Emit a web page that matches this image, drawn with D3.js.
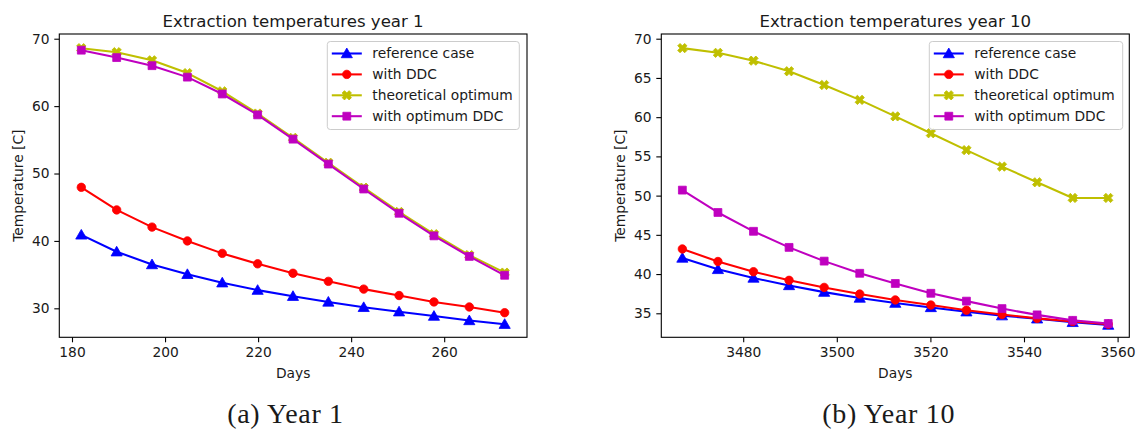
<!DOCTYPE html>
<html>
<head>
<meta charset="utf-8">
<script src="https://cdn.jsdelivr.net/npm/d3@7"></script>
<style>
  html, body { margin: 0; padding: 0; background: #fff; }
  svg { display: block; }
  text { font-family: "DejaVu Sans", sans-serif; fill: #1a1a1a; }
  .caption { font-family: "Liberation Serif", "DejaVu Serif", serif; }
</style>
</head>
<body>
<svg id="chart" width="1137" height="429"></svg>
<script>
// Extraction days (day of simulation)
const daysYear1  = [182, 189.6, 197.2, 204.8, 212.3, 219.9, 227.5, 235.1, 242.7, 250.3, 257.8, 265.4, 273];
const daysYear10 = [3467, 3474.6, 3482.2, 3489.8, 3497.3, 3504.9, 3512.5, 3520.1, 3527.7, 3535.3, 3542.8, 3550.4, 3558];

// Extraction temperatures [C], year 1
const referenceYear1   = [40.9, 38.4, 36.5, 35.05, 33.8, 32.7, 31.8, 30.95, 30.15, 29.5, 28.85, 28.2, 27.65];
const ddcYear1         = [47.95, 44.6, 42.05, 40.0, 38.15, 36.6, 35.2, 34.0, 32.85, 31.9, 30.95, 30.2, 29.35];
const theoreticalYear1 = [68.6, 68.0, 66.8, 64.9, 62.2, 58.9, 55.3, 51.6, 47.9, 44.3, 41.0, 37.9, 35.3];
const optimumDdcYear1  = [68.3, 67.2, 66.0, 64.3, 61.8, 58.7, 55.1, 51.4, 47.7, 44.1, 40.75, 37.7, 34.9];

// Extraction temperatures [C], year 10
const referenceYear10   = [42.05, 40.6, 39.5, 38.55, 37.7, 36.95, 36.3, 35.75, 35.2, 34.7, 34.3, 33.85, 33.5];
const ddcYear10         = [43.2, 41.6, 40.3, 39.2, 38.3, 37.45, 36.7, 36.05, 35.4, 34.85, 34.35, 33.95, 33.6];
const theoreticalYear10 = [68.8, 68.2, 67.2, 65.85, 64.1, 62.2, 60.1, 57.95, 55.8, 53.7, 51.7, 49.7, 49.7];
const optimumDdcYear10  = [50.7, 47.85, 45.45, 43.4, 41.65, 40.1, 38.8, 37.55, 36.55, 35.6, 34.8, 34.1, 33.7];

const seriesNames = ["reference case", "with DDC", "theoretical optimum", "with optimum DDC"];

// Tick values
const xTicksYear1  = [180, 200, 220, 240, 260];
const yTicksYear1  = [30, 40, 50, 60, 70];
const xTicksYear10 = [3480, 3500, 3520, 3540, 3560];
const yTicksYear10 = [35, 40, 45, 50, 55, 60, 65, 70];

const titles   = ["Extraction temperatures year 1", "Extraction temperatures year 10"];
const captions = ["(a) Year 1", "(b) Year 10"];

// styling per series: colour and marker
const styles = [
  { color: "#0000ff", marker: "triangle" },
  { color: "#ff0000", marker: "circle" },
  { color: "#bfbf00", marker: "x" },
  { color: "#bf00bf", marker: "square" }
];

const FONT = "13.8px";
const svg = d3.select("#chart");

function markerPath(type) {
  switch (type) {
    case "triangle": return d3.symbol(d3.symbolTriangle, 54)();
    case "circle":   return d3.symbol(d3.symbolCircle, 56)();
    case "square":   return d3.symbol(d3.symbolSquare, 62)();
    case "x":        return d3.symbol(d3.symbolCross, 54)();
  }
}
function markerTransform(type, x, y) {
  if (type === "x") return `translate(${x},${y}) rotate(45)`;
  if (type === "triangle") return `translate(${x},${y + 1})`;
  return `translate(${x},${y})`;
}

function drawPanel(p) {
  const g = svg.append("g");
  const x = d3.scaleLinear().domain(p.xDomain).range([p.left, p.right]);
  const y = d3.scaleLinear().domain(p.yDomain).range([p.bottom, p.top]);

  // axes
  const xAxis = d3.axisBottom(x).tickValues(p.xTicks).tickSize(5).tickPadding(5).tickFormat(d3.format("d"));
  const yAxis = d3.axisLeft(y).tickValues(p.yTicks).tickSize(5).tickPadding(4.8).tickFormat(d3.format("d"));

  const gx = g.append("g").attr("transform", `translate(0,${p.bottom})`).call(xAxis);
  const gy = g.append("g").attr("transform", `translate(${p.left},0)`).call(yAxis);
  [gx, gy].forEach(a => {
    a.select(".domain").remove();
    a.selectAll(".tick line").attr("stroke", "#000").attr("stroke-width", 1.1);
    a.selectAll(".tick text").style("font-size", FONT).attr("fill", "#1a1a1a");
  });

  // series
  const lineGen = d3.line().x(d => x(d[0])).y(d => y(d[1]));
  p.series.forEach((vals, i) => {
    const st = styles[i];
    const pts = p.days.map((d, k) => [d, vals[k]]);
    const sg = g.append("g");
    sg.append("path").datum(pts).attr("d", lineGen)
      .attr("fill", "none").attr("stroke", st.color).attr("stroke-width", 2.07)
      .attr("stroke-linejoin", "round");
    sg.selectAll("path.m").data(pts).enter().append("path").attr("class", "m")
      .attr("d", markerPath(st.marker))
      .attr("transform", d => markerTransform(st.marker, x(d[0]), y(d[1])))
      .attr("fill", st.color).attr("stroke", st.color).attr("stroke-width", 0.8);
  });

  // frame
  g.append("rect").attr("x", p.left).attr("y", p.top)
    .attr("width", p.right - p.left).attr("height", p.bottom - p.top)
    .attr("fill", "none").attr("stroke", "#000").attr("stroke-width", 1.1);

  // title and labels
  const cx = (p.left + p.right) / 2;
  g.append("text").attr("x", cx).attr("y", p.top - 7.5).attr("text-anchor", "middle")
    .style("font-size", "16.6px").text(p.title);
  g.append("text").attr("x", cx).attr("y", 377.5).attr("text-anchor", "middle")
    .style("font-size", FONT).text("Days");
  g.append("text").attr("transform", `translate(${p.ylabelX},${(p.top + p.bottom) / 2}) rotate(-90)`)
    .attr("text-anchor", "middle").style("font-size", FONT).text("Temperature [C]");
  g.append("text").attr("class", "caption").attr("x", p.captionX).attr("y", 422.5)
    .attr("text-anchor", "middle").style("font-size", "28px").style("letter-spacing", "0.7px")
    .attr("fill", "#111").text(p.caption);

  // legend
  const lg = g.append("g").attr("transform", `translate(${p.legendX},41.5)`);
  lg.append("rect").attr("width", p.legendW).attr("height", 88).attr("rx", 3)
    .attr("fill", "#fff").attr("fill-opacity", 0.8).attr("stroke", "#cccccc").attr("stroke-width", 1);
  seriesNames.forEach((name, i) => {
    const st = styles[i];
    const yy = 12 + i * 20.9;
    lg.append("line").attr("x1", 4.5).attr("x2", 34.5).attr("y1", yy).attr("y2", yy)
      .attr("stroke", st.color).attr("stroke-width", 2.07);
    lg.append("path").attr("d", markerPath(st.marker))
      .attr("transform", markerTransform(st.marker, 19.5, yy))
      .attr("fill", st.color).attr("stroke", st.color).attr("stroke-width", 0.8);
    lg.append("text").attr("x", 45).attr("y", yy).attr("dy", "0.35em")
      .style("font-size", FONT).text(name);
  });
}

drawPanel({
  id: 1, left: 59.3, right: 527, top: 34, bottom: 337.3,
  xDomain: [177.27, 277.8], yDomain: [25.7, 70.7],
  xTicks: xTicksYear1, yTicks: yTicksYear1, days: daysYear1,
  series: [referenceYear1, ddcYear1, theoreticalYear1, optimumDdcYear1],
  title: titles[0], caption: captions[0], captionX: 285.5, ylabelX: 23.4,
  legendX: 327.3, legendW: 192
});

drawPanel({
  id: 2, left: 661.3, right: 1129.3, top: 34, bottom: 337.3,
  xDomain: [3462.5, 3562.5], yDomain: [31.94, 70.6],
  xTicks: xTicksYear10, yTicks: yTicksYear10, days: daysYear10,
  series: [referenceYear10, ddcYear10, theoreticalYear10, optimumDdcYear10],
  title: titles[1], caption: captions[1], captionX: 888.7, ylabelX: 625,
  legendX: 929.3, legendW: 193.4
});
</script>
</body>
</html>
